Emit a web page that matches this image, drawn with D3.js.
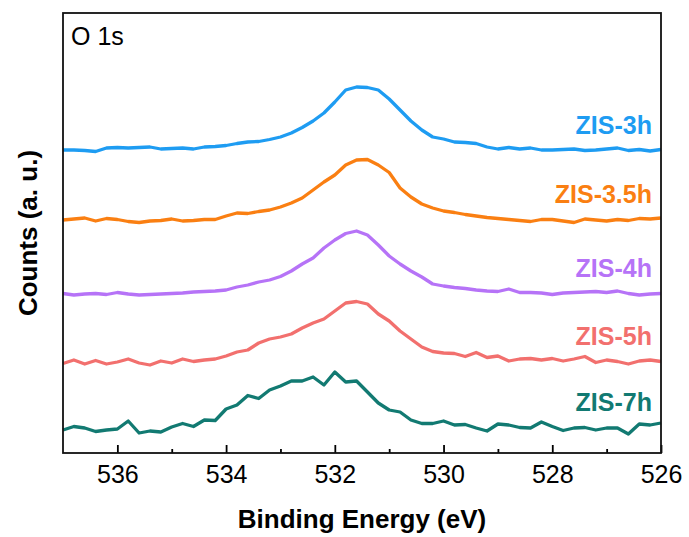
<!DOCTYPE html>
<html>
<head>
<meta charset="utf-8">
<script src="https://cdn.jsdelivr.net/npm/d3@7"></script>
<style>
  body { margin: 0; background: #fff; }
  text { font-family: "Liberation Sans", Arial, sans-serif; }
</style>
</head>
<body>
<svg id="chart" width="689" height="537"></svg>
<script>

// binding energy grid (eV), 0.2 eV step
var energy = [537.0,536.8,536.6,536.4,536.2,536.0,535.8,535.6,535.4,535.2,
              535.0,534.8,534.6,534.4,534.2,534.0,533.8,533.6,533.4,533.2,
              533.0,532.8,532.6,532.4,532.2,532.0,531.8,531.6,531.4,531.2,
              531.0,530.8,530.6,530.4,530.2,530.0,529.8,529.6,529.4,529.2,
              529.0,528.8,528.6,528.4,528.2,528.0,527.8,527.6,527.4,527.2,
              527.0,526.8,526.6,526.4,526.2,526.0];

// stacked counts (a. u.)
var zis3h = [303,303,302.5,301.5,305,305.5,305,305.5,306,304,
             304.5,305,304,306,306.5,307.5,309.5,311,311.5,313.5,
             316,320,325.5,332,340,351,363,366,365.5,363,
             354,343,332,323,316,314,311,310.5,309.5,306,
             304,305.5,304,305,303,303,303.5,304,302.5,303,
             304,305,302.5,303.5,302,303.5];
var zis35h = [233,234,235,232,234.5,233.5,231.5,230.5,232,232.5,
              234,232,232.5,233.5,233.5,237,240,239.5,241.5,243,
              246,250,255,263,271,278,288,293,293.5,288,
              280.5,265,256,249,245,242,240.5,238.5,237,235.5,
              234.5,233.5,232.5,231.5,233.5,233.5,232,230.5,234,233,
              232,233.5,232.5,234.5,234,235];
var zis4h = [159.5,158,159,159.5,158.5,160.5,159,158,158.5,159,
             159.5,160,161,161.5,162,163,166,168,171,173,
             176.5,182,189,195,205,213,219.5,222,218,208,
             197,189,182,176,169,167,165.5,164.5,163,162,
             161.5,164,160.5,160.5,160,158.5,160,160.5,161,161.5,
             160.5,162,159.5,158,159,159.5];
var zis5h = [89.5,93,89,92.5,89,91,94,90,88,92,
             90,94,91.5,93,94,97,101,103,110,114,
             116,119,125,130,134,142,150,151.5,149,139,
             132,122,114,106,101.5,100,99.5,96.5,100.5,95.5,
             97,92,94,94.5,93,94.5,92,94,96.5,90.5,
             93,91.5,89,92,93,91.5];
var zis7h = [23,26.5,25,21.5,23,24,32,20,22,21,
             26,29.5,26.5,33,32.5,44,48,57.5,54.5,63,
             67,72,72,76,68,81,71,72,61,50,
             43,41,33,29.5,29.5,32,28,28.5,25,22,
             29,28,25.5,25,31,26.5,22.5,25,25.5,23,
             25,25,19,29,28,30];

var seriesNames = ["ZIS-3h", "ZIS-3.5h", "ZIS-4h", "ZIS-5h", "ZIS-7h"];
var seriesColors = ["#1e9cf2", "#fa7f12", "#b673f7", "#f2706e", "#127a72"];
var xTicks = [536, 534, 532, 530, 528, 526];
var xMinorTicks = [535, 533, 531, 529, 527];

var allSeries = [zis3h, zis35h, zis4h, zis5h, zis7h];

var margin = {top: 13, right: 28, bottom: 84, left: 63};
var width = 689 - margin.left - margin.right;
var height = 537 - margin.top - margin.bottom;

var svg = d3.select("#chart");
var g = svg.append("g").attr("transform", "translate(" + margin.left + "," + margin.top + ")");

var x = d3.scaleLinear().domain([537, 526]).range([0, width]);
var y = d3.scaleLinear().domain([0, 440]).range([height, 0]);

var line = d3.line()
  .x(function(d, i) { return x(energy[i]); })
  .y(function(d) { return y(d); });

// curves
g.selectAll("path.spec")
  .data(allSeries)
  .enter().append("path")
  .attr("class", "spec")
  .attr("d", line)
  .attr("fill", "none")
  .attr("stroke", function(d, i) { return seriesColors[i]; })
  .attr("stroke-width", 3.3)
  .attr("stroke-linejoin", "round");

// sample labels, sitting above the right-hand baseline
g.selectAll("text.lbl")
  .data(allSeries)
  .enter().append("text")
  .attr("class", "lbl")
  .attr("x", x(526) - 9)
  .attr("y", function(d) { return y(d3.mean(d.slice(-6))) - 16; })
  .attr("text-anchor", "end")
  .attr("font-size", "25px")
  .attr("font-weight", "bold")
  .attr("fill", function(d, i) { return seriesColors[i]; })
  .text(function(d, i) { return seriesNames[i]; });

// x axis, ticks pointing inward
var xAxis = g.append("g")
  .attr("transform", "translate(0," + height + ")")
  .call(d3.axisBottom(x).tickValues(xTicks).tickSize(-8).tickPadding(12).tickFormat(d3.format("d")));
xAxis.select(".domain").remove();
xAxis.selectAll("line").attr("stroke", "#000").attr("stroke-width", 1.8);
xAxis.selectAll("text").attr("font-size", "25px").attr("fill", "#000")
  .style("font-family", '"Liberation Sans", Arial, sans-serif');

var xMinor = g.append("g")
  .attr("transform", "translate(0," + height + ")")
  .call(d3.axisBottom(x).tickValues(xMinorTicks).tickSize(-4).tickFormat(""));
xMinor.select(".domain").remove();
xMinor.selectAll("line").attr("stroke", "#000").attr("stroke-width", 1.8);

// frame
g.append("rect")
  .attr("width", width)
  .attr("height", height)
  .attr("fill", "none")
  .attr("stroke", "#111")
  .attr("stroke-width", 1.8);

g.append("text")
  .attr("x", 8)
  .attr("y", 32)
  .attr("font-size", "25px")
  .attr("fill", "#000")
  .text("O 1s");

// axis titles
svg.append("text")
  .attr("x", margin.left + width / 2)
  .attr("y", 528)
  .attr("text-anchor", "middle")
  .attr("font-size", "26px")
  .attr("font-weight", "bold")
  .text("Binding Energy (eV)");

svg.append("text")
  .attr("transform", "translate(37," + (margin.top + height / 2) + ") rotate(-90)")
  .attr("text-anchor", "middle")
  .attr("font-size", "26px")
  .attr("font-weight", "bold")
  .text("Counts (a. u.)");

</script>
</body>
</html>
